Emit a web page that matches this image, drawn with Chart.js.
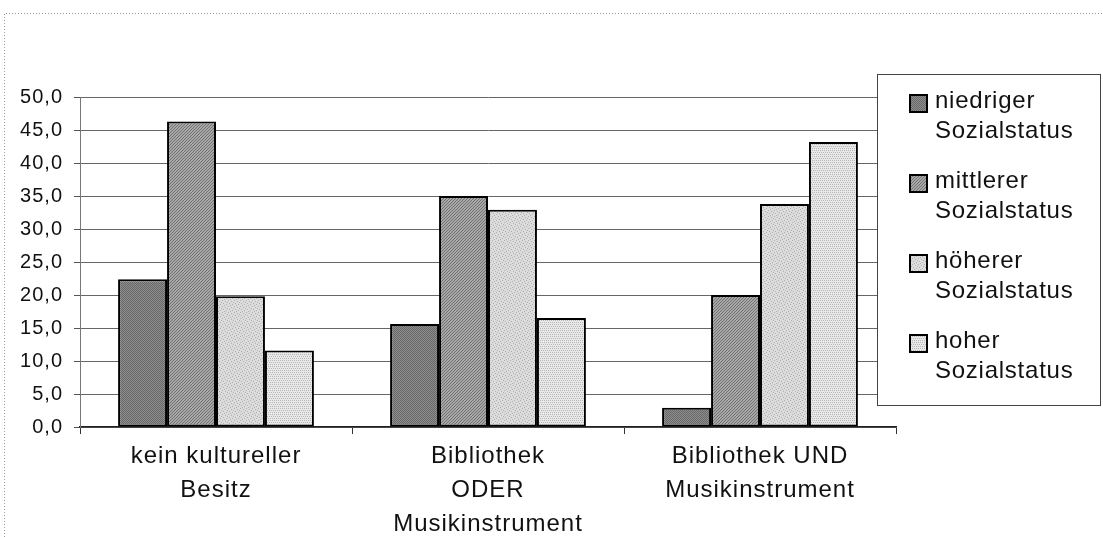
<!DOCTYPE html>
<html>
<head>
<meta charset="utf-8">
<script src="https://cdn.jsdelivr.net/npm/chart.js@4/dist/chart.umd.min.js"></script>
<style>
    html, body { margin: 0; padding: 0; background: #fff; }
    #wrap { width: 1103px; height: 537px; position: relative; }
</style>
</head>
<body>
<div id="wrap"><canvas id="chart" width="1103" height="537"></canvas></div>
<script>
// Data
const categories = [
    ['kein kultureller', 'Besitz'],
    ['Bibliothek', 'ODER', 'Musikinstrument'],
    ['Bibliothek UND', 'Musikinstrument']
];
const seriesNames = [
    'niedriger Sozialstatus',
    'mittlerer Sozialstatus',
    'höherer Sozialstatus',
    'hoher Sozialstatus'
];
const niedriger = [22.4, 15.6, 2.9];
const mittlerer = [46.3, 35.0, 20.0];
const hoeherer = [19.8, 32.9, 33.8];
const hoher = [11.6, 16.5, 43.2];
const yTicks = [0, 5, 10, 15, 20, 25, 30, 35, 40, 45, 50];

// Grey textures like the scanned print
function makePattern(kind) {
    const c = document.createElement('canvas');
    c.width = 6; c.height = 6;
    const g = c.getContext('2d');
    if (kind === 0) {
        g.fillStyle = '#8c8c8c'; g.fillRect(0, 0, 6, 6);
        g.fillStyle = '#6a6a6a';
        for (let y = 0; y < 6; y++) for (let x = 0; x < 6; x++) if ((x + y) % 2 === 0) g.fillRect(x, y, 1, 1);
    } else if (kind === 1) {
        g.fillStyle = '#a8a8a8'; g.fillRect(0, 0, 6, 6);
        g.fillStyle = '#707070';
        for (let i = 0; i < 6; i++) { g.fillRect(i, 5 - i, 1, 1); g.fillRect((i + 3) % 6, 5 - i, 1, 1); }
    } else if (kind === 2) {
        g.fillStyle = '#dcdcdc'; g.fillRect(0, 0, 6, 6);
        g.fillStyle = '#b0b0b0';
        [[0, 0], [3, 1], [1, 3], [4, 4], [2, 5], [5, 2]].forEach(p => g.fillRect(p[0], p[1], 1, 1));
    } else {
        g.fillStyle = '#e8e8e8'; g.fillRect(0, 0, 6, 6);
        g.fillStyle = '#b8b8b8';
        for (let y = 0; y < 6; y += 2) for (let x = 0; x < 6; x += 2) g.fillRect(x + (y % 4 ? 1 : 0), y, 1, 1);
    }
    return g.createPattern(c, 'repeat');
}
const fills = [0, 1, 2, 3].map(makePattern);

const FONT = "'Liberation Sans', Arial, sans-serif";

// wider letter spacing as in the scan
const spacing = {
    id: 'spacing',
    beforeDraw(chart) { chart.ctx.letterSpacing = '1px'; }
};

// Legend + outer frame drawn on top of plot (as in the original)
const boxLegend = {
    id: 'boxLegend',
    afterDraw(chart) {
        const ctx = chart.ctx;
        ctx.save();
        // dotted outer frame
        ctx.strokeStyle = '#999';
        ctx.setLineDash([1, 2]);
        ctx.lineWidth = 1;
        ctx.beginPath();
        ctx.moveTo(4.5, 600); ctx.lineTo(4.5, 13.5); ctx.lineTo(1200, 13.5);
        ctx.stroke();
        ctx.setLineDash([]);
        // legend box
        const bx = 877, by = 74, bw = 223, bh = 331;
        ctx.fillStyle = '#fff';
        ctx.fillRect(bx, by, bw, bh);
        ctx.strokeStyle = '#444';
        ctx.lineWidth = 1;
        ctx.strokeRect(bx + 0.5, by + 0.5, bw, bh);
        ctx.font = '24px ' + FONT;
        ctx.letterSpacing = '0.75px';
        ctx.textBaseline = 'middle';
        seriesNames.forEach((name, i) => {
            const y0 = 101 + i * 80;
            ctx.fillStyle = fills[i];
            ctx.fillRect(910, y0 - 6, 17, 17);
            ctx.strokeStyle = '#000';
            ctx.lineWidth = 2;
            ctx.strokeRect(910, y0 - 6, 17, 17);
            ctx.fillStyle = '#111';
            const parts = name.split(' ');
            ctx.fillText(parts[0], 935, y0);
            ctx.fillText(parts[1], 935, y0 + 30);
        });
        ctx.restore();
    }
};

const ctx = document.getElementById('chart').getContext('2d');
new Chart(ctx, {
    type: 'bar',
    data: {
        labels: categories,
        datasets: [niedriger, mittlerer, hoeherer, hoher].map((d, i) => ({
            label: seriesNames[i],
            data: d,
            backgroundColor: fills[i],
            borderColor: '#000',
            borderWidth: 2,
            borderSkipped: false,
            categoryPercentage: 0.72,
            barPercentage: 1.0
        }))
    },
    options: {
        responsive: false,
        animation: false,
        layout: { padding: { left: 0, right: 207, top: 97, bottom: 0 } },
        plugins: {
            legend: { display: false },
            tooltip: { enabled: false }
        },
        scales: {
            x: {
                grid: {
                    offset: true,
                    drawOnChartArea: false,
                    drawTicks: true,
                    tickLength: 7,
                    color: '#333'
                },
                border: { display: true, color: '#222', width: 1.5 },
                ticks: {
                    font: { family: FONT, size: 24, lineHeight: 1.4 },
                    color: '#111',
                    padding: 6,
                    maxRotation: 0,
                    autoSkip: false
                },
                afterFit(scale) { scale.height = 110; }
            },
            y: {
                min: 0,
                max: 50,
                afterBuildTicks(scale) { scale.ticks = yTicks.map(v => ({ value: v })); },
                grid: {
                    color: '#666',
                    borderDash: [9, 2, 3, 2],
                    tickLength: 6,
                    tickColor: '#555',
                    tickBorderDash: []
                },
                border: { display: true, color: '#777', width: 1 },
                ticks: {
                    font: { family: FONT, size: 20 },
                    color: '#111',
                    padding: 11,
                    callback: v => v.toFixed(1).replace('.', ',')
                },
                afterFit(scale) { scale.width = 80; }
            }
        }
    },
    plugins: [spacing, boxLegend]
});
</script>
</body>
</html>
